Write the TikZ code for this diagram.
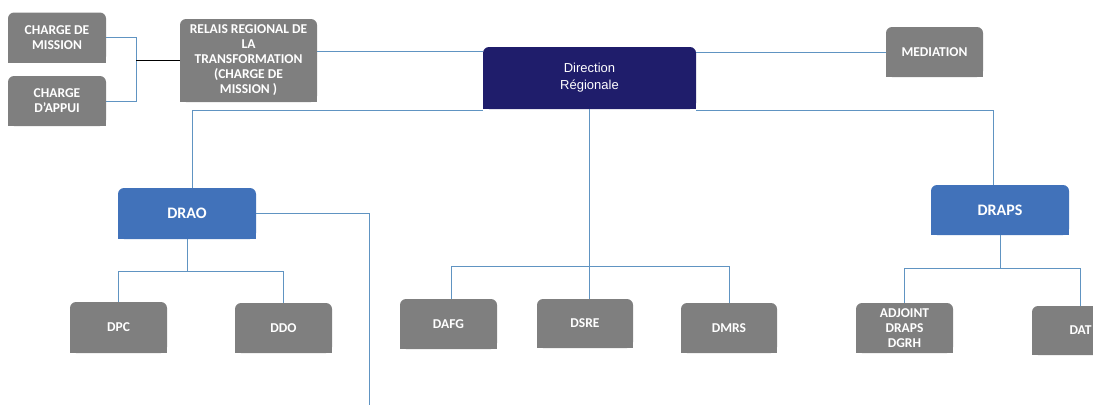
\documentclass[tikz,border=0pt]{standalone}
\usepackage{fontspec}
\setmainfont{Carlito}
\newfontfamily\arialfont{Liberation Sans}

\definecolor{boxgray}{RGB}{127,127,127}
\definecolor{boxblue}{RGB}{65,114,186}
\definecolor{boxnavy}{RGB}{31,29,107}
\definecolor{linkblue}{RGB}{96,148,194}

\pgfdeclarelayer{bg}
\pgfsetlayers{bg,main}

\tikzset{
    unit/.style={inner sep=0pt, rounded corners=6pt, text=white, align=center},
    graybox/.style={unit, fill=boxgray, font=\bfseries\fontsize{13.5}{15}\selectfont},
    bluebox/.style={unit, fill=boxblue, font=\bfseries\fontsize{16}{18}\selectfont},
    navybox/.style={unit, fill=boxnavy, font=\arialfont\fontsize{13}{17}\selectfont},
    link/.style={draw=linkblue, line width=0.8pt}
}

\begin{document}
\begin{tikzpicture}[x=1pt, y=-1pt]
    \useasboundingbox (0,0) rectangle (1093,407);

    % top row
    \node[graybox, minimum width=98, minimum height=50] (cm) at (57,37.5) {CHARGE DE\\MISSION};
    \node[graybox, minimum width=98, minimum height=50] (ca) at (57,101) {CHARGE\\D'APPUI};
    \node[graybox, minimum width=137, minimum height=83] (relais) at (248.5,60.5) {RELAIS REGIONAL DE\\LA\\TRANSFORMATION\\(CHARGE DE\\MISSION )};
    \node[navybox, minimum width=213, minimum height=62] (dr) at (589.5,78) {Direction\\R\'egionale};
    \node[graybox, minimum width=97, minimum height=50] (med) at (934.5,52) {MEDIATION};

    % second row
    \node[bluebox, minimum width=138, minimum height=51] (drao) at (187,213.5) {DRAO};
    \node[bluebox, minimum width=138, minimum height=50] (draps) at (1000,210) {DRAPS};

    % bottom row
    \node[graybox, minimum width=97, minimum height=51] (dpc) at (118.5,327.5) {DPC};
    \node[graybox, minimum width=97, minimum height=50] (ddo) at (283.5,328) {DDO};
    \node[graybox, minimum width=97, minimum height=50] (dafg) at (448.5,324) {DAFG};
    \node[graybox, minimum width=96, minimum height=49] (dsre) at (585,323.5) {DSRE};
    \node[graybox, minimum width=96, minimum height=50] (dmrs) at (729,328) {DMRS};
    \node[graybox, minimum width=97, minimum height=50] (adj) at (904.5,328) {ADJOINT\\DRAPS\\DGRH};
    \node[graybox, minimum width=97, minimum height=49] (dat) at (1080.5,330.5) {DAT};

    % square off the lower corners
    \begin{pgfonlayer}{bg}
        \foreach \n/\c in {cm/boxgray, ca/boxgray, relais/boxgray, dr/boxnavy, med/boxgray,
                           drao/boxblue, draps/boxblue, dpc/boxgray, ddo/boxgray, dafg/boxgray,
                           dsre/boxgray, dmrs/boxgray, adj/boxgray, dat/boxgray}
            \fill[\c] (\n.south west) rectangle (\n.east);
    \end{pgfonlayer}

    % links
    \draw[link] (cm.east) -- ++(30,0) |- (ca.east);
    \draw[black, line width=0.8pt] (relais.west) -- ++(-44,0);
    \draw[link] ([yshift=9.5pt]relais.east) -- ([yshift=9.5pt]relais.east -| dr.west);
    \draw[link] (med.west) -- (med.west -| dr.east);

    \draw[link] ([yshift=-1pt]dr.south west) -| ([xshift=5pt]drao.north);
    \draw[link] ([yshift=-1pt]dr.south east) -| ([xshift=-7pt]draps.north);

    \draw[link] (dr.south) -- ++(0,157) coordinate (hubM);
    \draw[link] ([xshift=2.5pt]dafg.north) |- (hubM) -| (dmrs.north);
    \draw[link] (hubM) -- (hubM |- dsre.north);

    \coordinate (tail) at (369,405);
    \draw[link] (drao.east) -| (tail);
    \draw[link] (drao.south) -- ++(0,32) coordinate (hubL);
    \draw[link] (dpc.north) |- (hubL) -| (ddo.north);

    \draw[link] (draps.south) -- ++(0,33) coordinate (hubR);
    \draw[link] (adj.north) |- (hubR) -| (dat.north);
\end{tikzpicture}
\end{document}
